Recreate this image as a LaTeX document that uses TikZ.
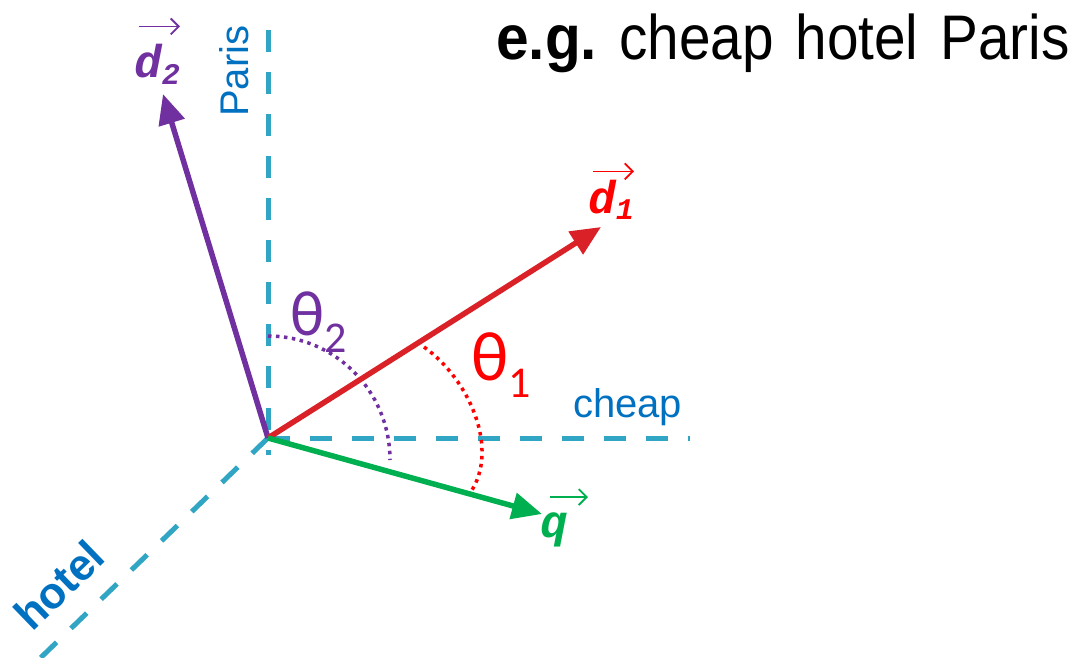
\documentclass[tikz,border=0pt]{standalone}
\usepackage{fontspec}
\setmainfont{Liberation Sans}
\newfontfamily\titlefont[FakeStretch=0.9]{Liberation Sans}
\newfontfamily\egfont[FakeStretch=0.93]{Liberation Sans}
\newfontfamily\vecfont{Liberation Mono}
\newfontfamily\greekfont{Carlito}
\usetikzlibrary{positioning, arrows.meta}
\definecolor{axis}{HTML}{31A5C4}
\definecolor{axislab}{HTML}{0070C0}
\definecolor{docred}{HTML}{DA2128}
\definecolor{angred}{HTML}{FF0000}
\definecolor{docpurple}{HTML}{7030A0}
\definecolor{qgreen}{HTML}{00B050}
\newcommand{\vsub}[1]{\raisebox{-6pt}{\fontsize{30}{30}\selectfont #1}}
\newcommand{\tsub}[1]{\raisebox{-17pt}{\fontsize{44}{44}\selectfont #1}}

\begin{document}
\begin{tikzpicture}[x=1pt, y=-1pt,
    achse/.style={axis, line width=5pt, dash pattern=on 22pt off 20pt},
    achslab/.style={axislab, font=\fontsize{40}{44}\selectfont, inner sep=0pt},
    vektor/.style={line width=5.5pt, -{Triangle[length=30pt, width=26pt]}},
    winkel/.style={line width=3.5pt, dash pattern=on 3.5pt off 4.5pt},
    vlab/.style={font=\fontsize{46}{46}\selectfont\vecfont\bfseries\itshape, inner sep=0pt},
    overarr/.style={line width=1.8pt, -{Straight Barb[length=8pt, width=16pt]}},
    thlab/.style={font=\fontsize{64}{64}\selectfont\greekfont, inner sep=0pt}]
  \useasboundingbox (0,0) rectangle (1078,658);
  \coordinate (O) at (268,438);
  \coordinate (paris) at (268,30);
  \coordinate (parisend) at (268,455);
  \coordinate (cheap) at (690,438);
  \coordinate (hotel) at (30,668);
  \coordinate (d1) at (601,227);
  \coordinate (d2) at (163,94);
  \coordinate (q) at (542,514);
  % axes
  \draw[achse] (paris) -- (parisend);
  \draw[achse] (O) -- (cheap);
  \draw[achse] (O) -- (hotel);
  \node[achslab, rotate=90, anchor=base west] (parislab) at (248,117) {Paris};
  \node[achslab, rotate=44, anchor=base west, font=\fontsize{44}{48}\selectfont\bfseries]
    (hotellab) at (32,633) {hotel};
  \node[achslab, anchor=base west] (cheaplab) at (573,417) {cheap};
  % angles
  \draw[winkel, docpurple] (268,336) .. controls (335,336) and (390,391) .. (390,460);
  \draw[winkel, angred] (424,347) .. controls (470,380) and (500,450) .. (470,493);
  \node[thlab, docpurple, anchor=base west] (th2) at (290,335) {θ\tsub{2}};
  \node[thlab, angred, anchor=base west, font=\fontsize{70}{70}\selectfont\greekfont]
    (th1) at (471,380) {θ\tsub{1}};
  % vectors
  \draw[vektor, docpurple] (O) -- (d2);
  \draw[vektor, docred] (O) -- (d1);
  \draw[vektor, qgreen] (O) -- (q);
  \node[vlab, docpurple, anchor=base west] (d2lab) at (134,78) {d\vsub{2}};
  \node[vlab, angred, anchor=base west] (d1lab) at (588,213) {d\vsub{1}};
  \node[vlab, qgreen, anchor=base west] (qlab) at (540,537) {q};
  \draw[overarr, docpurple] ([xshift=5pt, yshift=18pt]d2lab.north west) -- ([yshift=18pt]d2lab.north east);
  \draw[overarr, angred] ([xshift=5pt, yshift=8pt]d1lab.north west) -- ([yshift=8pt]d1lab.north east);
  \draw[overarr, qgreen] ([xshift=10pt, yshift=15pt]qlab.north west) -- ([xshift=20pt, yshift=15pt]qlab.north east);
  % title
  \node[anchor=base east, inner sep=0pt, font=\fontsize{63}{70}\selectfont] (titel) at (1070,60)
    {{\egfont\bfseries e.g.}\hspace{22pt}{\titlefont cheap\hspace{22pt}hotel\hspace{22pt}Paris}};
\end{tikzpicture}
\end{document}
